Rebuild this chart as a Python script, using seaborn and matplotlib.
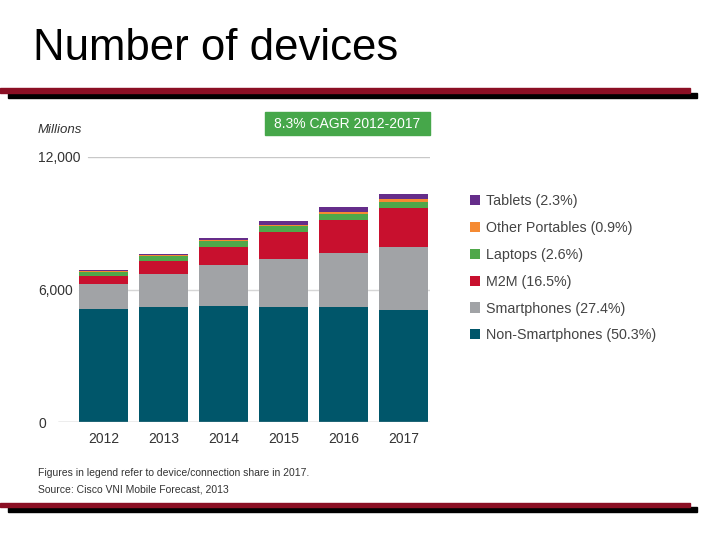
import numpy as np
import pandas as pd
import seaborn as sns
import matplotlib.pyplot as plt
from matplotlib.patches import Rectangle

# values, millions of devices
years = ['2012', '2013', '2014', '2015', '2016', '2017']
non_smartphones = [5120, 5210, 5240, 5210, 5210, 5075]
smartphones = [1145, 1480, 1870, 2190, 2445, 2840]
m2m = [350, 600, 830, 1195, 1495, 1765]
laptops = [180, 240, 258, 285, 272, 287]
other_portables = [60, 15, 60, 50, 105, 120]
tablets = [20, 45, 90, 180, 210, 225]

series = ['Tablets (2.3%)', 'Other Portables (0.9%)', 'Laptops (2.6%)',
          'M2M (16.5%)', 'Smartphones (27.4%)', 'Non-Smartphones (50.3%)']
colors = ['#652d8a', '#f58a32', '#4fa84a', '#c8102e', '#a1a3a6', '#00566a']

df = pd.DataFrame({'year': years,
                   'Non-Smartphones': non_smartphones,
                   'Smartphones': smartphones,
                   'M2M': m2m,
                   'Laptops': laptops,
                   'Other Portables': other_portables,
                   'Tablets': tablets})
# running totals from the bottom up, then draw tallest first so each layer covers the next
stack = df.drop(columns='year').cumsum(axis=1)
stack['year'] = df['year']
layers = ['Tablets', 'Other Portables', 'Laptops', 'M2M', 'Smartphones', 'Non-Smartphones']

sns.set_style('white')
plt.rcParams['font.family'] = ['Liberation Sans', 'DejaVu Sans']

fig = plt.figure(figsize=(7.2, 5.4), dpi=100)
ax = fig.add_axes([58 / 720, 118 / 540, 372 / 720, 265 / 540])

for layer, lab, col in zip(layers, series, colors):
    sns.barplot(data=stack, x='year', y=layer, color=col, width=0.82,
                saturation=1, label=lab, ax=ax, zorder=3,
                edgecolor='none', linewidth=0)

ax.set_xlim(-0.76, 5.44)
ax.set_ylim(0, 12000)
ax.set_xlabel('')
ax.set_ylabel('')
sns.despine(ax=ax, left=True, bottom=True)

ax.set_yticks([0, 6000, 12000])
ax.set_yticklabels(['0', '6,000', '12,000'])
ax.tick_params(axis='y', length=0, pad=14.4, labelsize=10, labelcolor='#333333')
for lbl in ax.get_yticklabels():
    lbl.set_horizontalalignment('left')
ax.tick_params(axis='x', length=0, pad=7, labelsize=10, labelcolor='#333333')

# gridlines start just after the labels
ax.axhline(12000, xmin=30 / 372, xmax=1, color='#c8c8c8', lw=1, zorder=1)
ax.axhline(6000, xmin=21 / 372, xmax=1, color='#d6d6d6', lw=1, zorder=1)
ax.axhline(0, xmin=0, xmax=1, color='#a8a8a8', lw=1, zorder=4)

ax.text(38 / 720, 1 - 130 / 540, 'Millions', transform=fig.transFigure,
        fontsize=9.5, style='italic', color='#333333', va='center')

# CAGR badge
fig.patches.append(Rectangle((265 / 720, 1 - 135 / 540), 165 / 720, 23 / 540,
                             transform=fig.transFigure, color='#46a74a', zorder=5))
fig.text(347.5 / 720, 1 - 123.5 / 540, '8.3% CAGR 2012-2017', color='white',
         fontsize=10, ha='center', va='center', zorder=6)

ax.legend(loc='upper left', bbox_to_anchor=(470 / 720, 1 - 194 / 540),
          bbox_transform=fig.transFigure, frameon=False, fontsize=10.3,
          handlelength=0.7, handleheight=0.7, handletextpad=0.45,
          labelspacing=0.9, borderpad=0, borderaxespad=0, labelcolor='#444444')

fig.text(38 / 720, 1 - 473 / 540, 'Figures in legend refer to device/connection share in 2017.',
         fontsize=7.5, color='#333333', va='center')
fig.text(38 / 720, 1 - 490 / 540, 'Source: Cisco VNI Mobile Forecast, 2013',
         fontsize=7.5, color='#333333', va='center')

# slide title and rules
fig.text(33 / 720, 1 - 48 / 540, 'Number of devices', fontsize=31.5, color='black', va='center')
fig.patches.append(Rectangle((0, 1 - 93 / 540), 690 / 720, 5 / 540,
                             transform=fig.transFigure, color='#8b0f24', zorder=2))
fig.patches.append(Rectangle((8 / 720, 1 - 98 / 540), 689 / 720, 5 / 540,
                             transform=fig.transFigure, color='black', zorder=1))
fig.patches.append(Rectangle((0, 1 - 507 / 540), 690 / 720, 4 / 540,
                             transform=fig.transFigure, color='#8b0f24', zorder=2))
fig.patches.append(Rectangle((8 / 720, 1 - 512 / 540), 689 / 720, 5 / 540,
                             transform=fig.transFigure, color='black', zorder=1))

fig.savefig('out.png', dpi=100)
